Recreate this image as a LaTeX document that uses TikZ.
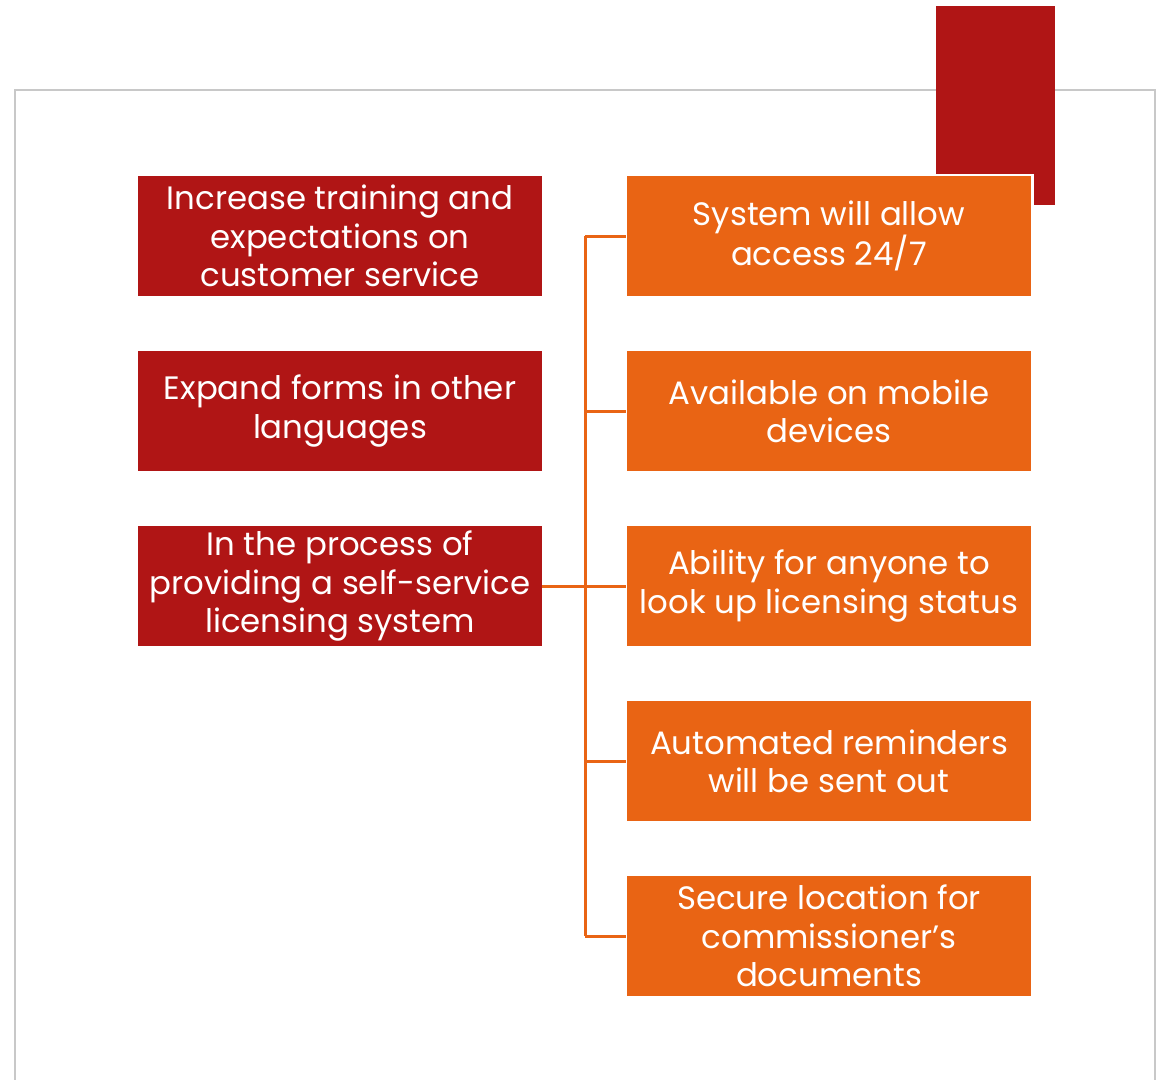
\documentclass[tikz,border=0pt]{standalone}
\usepackage{fontspec}
\setmainfont{Poppins}
\usepackage{xcolor}
\usetikzlibrary{positioning}
\definecolor{darkred}{HTML}{B01515}
\definecolor{tangerine}{HTML}{E96414}
\definecolor{framegray}{HTML}{C8C8C8}

\begin{document}
\begin{tikzpicture}[x=1bp,y=-1bp,inner sep=0,outer sep=0,
  goalbox/.style={fill=darkred,text=white,minimum width=404bp,minimum height=120bp,
    align=center,font=\fontsize{32.5}{38.5}\selectfont},
  stepbox/.style={goalbox,fill=tangerine,draw=white,line width=2.5bp,
    minimum width=406.5bp,minimum height=122.5bp},
  link/.style={draw=tangerine,line width=3bp}]

    \useasboundingbox (0,0) rectangle (1163,1080);

    % Frame and corner bar
    \draw[framegray,line width=2.5bp] (15,1090) -- (15,90) -- (1155,90) -- (1155,1090);
    \fill[darkred] (936,6) rectangle (1055,205);

    % Left column
    \node[goalbox] (goal1) at (340,236) {Increase training and\\expectations on\\customer service};
    \node[goalbox,below=55bp of goal1] (goal2) {Expand forms in other\\languages};
    \node[goalbox,below=55bp of goal2] (goal3) {In the process of\\providing a self-service\\licensing system};

    % Right column
    \node[stepbox] (step1) at (829,236) {System will allow\\access 24/7};
    \node[stepbox,below=52.5bp of step1] (step2) {Available on mobile\\devices};
    \node[stepbox,below=52.5bp of step2] (step3) {Ability for anyone to\\look up licensing status};
    \node[stepbox,below=52.5bp of step3] (step4) {Automated reminders\\will be sent out};
    \node[stepbox,below=52.5bp of step4] (step5) {Secure location for\\commissioner’s\\documents};

    % Connectors
    \coordinate (trunk) at (585,0);
    \draw[link] (goal3.east) -- (goal3.east -| trunk);
    \draw[link] (trunk |- step1.west) -- (trunk |- step5.west);
    \foreach \i in {1,...,5}
      \draw[link] (trunk |- step\i.west) -- (step\i.west);

\end{tikzpicture}
\end{document}
